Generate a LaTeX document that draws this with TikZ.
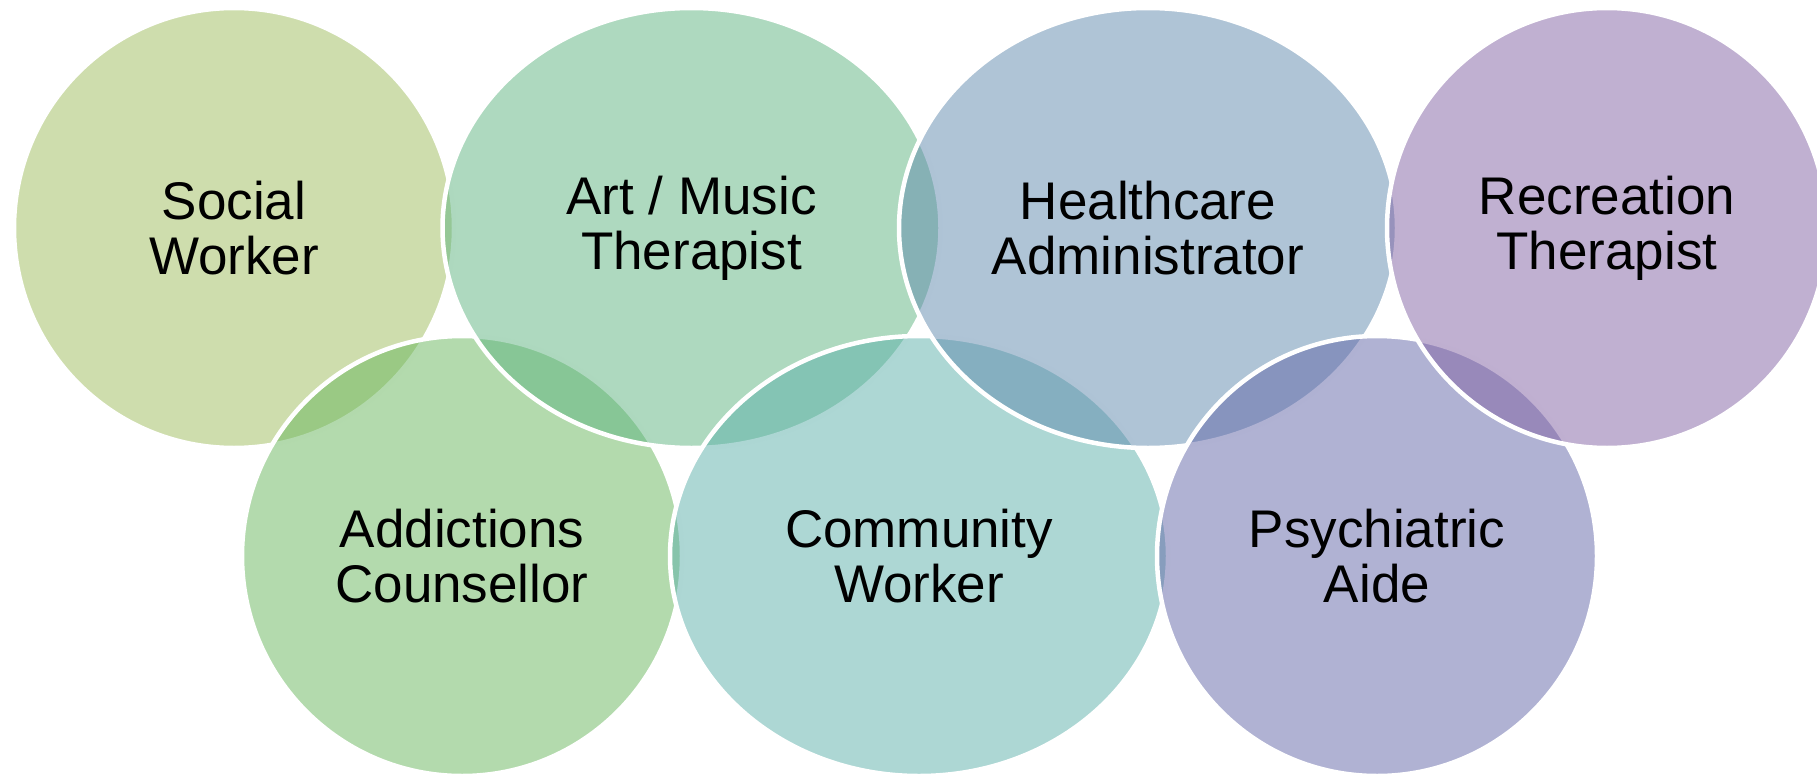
\documentclass[tikz,border=0pt]{standalone}
\usepackage{fontspec}
\setmainfont{Liberation Sans}
\usetikzlibrary{shapes.geometric}
\definecolor{cSW}{RGB}{157,187,91}
\definecolor{cAC}{RGB}{103,181,91}
\definecolor{cAM}{RGB}{93,179,127}
\definecolor{cCW}{RGB}{91,175,169}
\definecolor{cHA}{RGB}{95,137,173}
\definecolor{cPA}{RGB}{97,101,167}
\definecolor{cRT}{RGB}{129,97,163}
\tikzset{
  ring/.style={ellipse, inner sep=0pt, outer sep=0pt, minimum height=440pt,
    fill opacity=0.5, draw=white, draw opacity=1, line width=4.5pt,
    text opacity=1, text=black, align=center,
    font=\fontsize{53}{55}\selectfont},
  roundring/.style={ring, minimum width=440pt},
  wide/.style={ring, minimum width=498pt}
}
\begin{document}
\begin{tikzpicture}[x=1pt,y=-1pt]
\useasboundingbox (0,0) rectangle (1817,776);
\node[roundring, fill=cSW] (sw) at (234,228) {Social\\Worker};
\node[roundring, fill=cAC] (ac) at (462,556) {Addictions\\Counsellor};
\node[wide, fill=cAM] (am) at (691.5,228) {Art / Music\\Therapist};
\node[wide, fill=cCW] (cw) at (919,556) {Community\\Worker};
\node[wide, fill=cHA] (ha) at (1148,228) {Healthcare\\Administrator};
\node[roundring, fill=cPA] (pa) at (1377,556) {Psychiatric\\Aide};
\node[roundring, fill=cRT] (rt) at (1607,228) {Recreation\\Therapist};
\end{tikzpicture}
\end{document}
